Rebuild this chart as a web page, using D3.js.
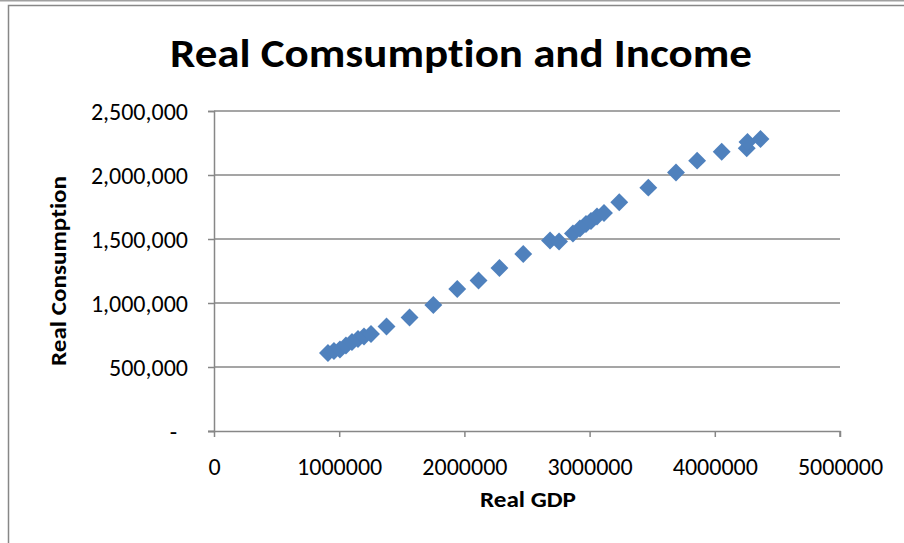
<!DOCTYPE html>
<html>
<head>
<meta charset="utf-8">
<script src="https://cdn.jsdelivr.net/npm/d3@7"></script>
<style>
  html, body { margin: 0; padding: 0; background: #ffffff; }
  svg { display: block; }
  text { font-family: Carlito, Calibri, Lato, "Open Sans", sans-serif; fill: #000; font-variant-ligatures: none; }
</style>
</head>
<body>
<svg id="chart" width="904" height="543"></svg>
<script>
// Real GDP (x) against real consumption (y)
const realGDP = [
  910000, 958000, 1006000, 1054000, 1102000, 1150000, 1198000, 1254000,
  1378000, 1562000, 1752000, 1943000, 2113000, 2280000, 2470000, 2684000,
  2756000, 2867000, 2923000, 2971000, 3011000, 3059000, 3115000, 3237000,
  3469000, 3690000, 3859000, 4055000, 4255000, 4261000, 4365000
];
const realConsumption = [
  609000, 625000, 637000, 668000, 695000, 719000, 738000, 758000,
  816000, 887000, 984000, 1109000, 1176000, 1273000, 1383000, 1488000,
  1480000, 1543000, 1582000, 1617000, 1641000, 1676000, 1703000, 1787000,
  1901000, 2020000, 2112000, 2182000, 2209000, 2258000, 2281000
];
const xTicks = [0, 1000000, 2000000, 3000000, 4000000, 5000000];
const yTicks = [0, 500000, 1000000, 1500000, 2000000, 2500000];

const chartTitle = "Real Comsumption and Income";
const xTitle = "Real GDP";
const yTitle = "Real Consumption";

const svg = d3.select("#chart");
const gray = "#878787";

// outer chart frame
svg.append("line").attr("x1", 0).attr("x2", 904).attr("y1", 0.75).attr("y2", 0.75)
  .attr("stroke", "#a0a0a0").attr("stroke-width", 1.5);
svg.append("path").attr("d", "M8.5,543 V5.5 H904")
  .attr("fill", "none").attr("stroke", gray).attr("stroke-width", 1.5);

const plot = { left: 214, right: 840, top: 111, bottom: 431 };

const x = d3.scaleLinear().domain([0, 5000000]).range([plot.left, plot.right]);
const y = d3.scaleLinear().domain([0, 2500000]).range([plot.bottom, plot.top]);

// horizontal gridlines
svg.append("g").selectAll("line")
  .data(yTicks.filter(d => d > 0))
  .join("line")
  .attr("x1", plot.left).attr("x2", plot.right)
  .attr("y1", d => y(d)).attr("y2", d => y(d))
  .attr("stroke", gray).attr("stroke-width", 1.5);

const fmtY = d => d === 0 ? "-" : d3.format(",")(d);

// y axis
const yAxis = svg.append("g")
  .attr("transform", `translate(${plot.left},0)`)
  .call(d3.axisLeft(y).tickValues(yTicks).tickFormat(fmtY).tickSize(6).tickPadding(20));
yAxis.select(".domain").attr("stroke", gray).attr("stroke-width", 1.5);
yAxis.selectAll(".tick line").attr("stroke", gray).attr("stroke-width", 1.5);
yAxis.selectAll(".tick text")
  .style("font-size", "24px").attr("fill", "#000")
  .attr("x", d => d === 0 ? -37 : -26)
  .attr("dy", "0.35em");

// x axis
const xAxis = svg.append("g")
  .attr("transform", `translate(0,${plot.bottom})`)
  .call(d3.axisBottom(x).tickValues(xTicks).tickFormat(d3.format("d")).tickSize(6).tickPadding(21));
xAxis.select(".domain").attr("stroke", gray).attr("stroke-width", 1.5)
  .attr("d", `M${plot.left - 6},0.5H${plot.right}V6`);
xAxis.selectAll(".tick line").attr("stroke", gray).attr("stroke-width", 1.5);
xAxis.selectAll(".tick text").style("font-size", "24px").attr("fill", "#000");

// data markers (diamonds)
const diamond = d3.symbol().type(d3.symbolSquare).size(160);
svg.append("g").selectAll("path")
  .data(realGDP.map((g, i) => [g, realConsumption[i]]))
  .join("path")
  .attr("d", diamond)
  .attr("transform", d => `translate(${x(d[0])},${y(d[1])}) rotate(45)`)
  .attr("fill", "#4F81BD");

// titles
svg.append("text")
  .attr("x", 461).attr("y", 67)
  .attr("text-anchor", "middle")
  .attr("textLength", 582).attr("lengthAdjust", "spacingAndGlyphs")
  .style("font-size", "40px").style("font-weight", "bold")
  .text(chartTitle);

svg.append("text")
  .attr("x", 528).attr("y", 507)
  .attr("text-anchor", "middle")
  .attr("textLength", 96).attr("lengthAdjust", "spacingAndGlyphs")
  .style("font-size", "22px").style("font-weight", "bold")
  .text(xTitle);

svg.append("text")
  .attr("transform", "translate(66,271) rotate(-90)")
  .attr("text-anchor", "middle")
  .attr("textLength", 190).attr("lengthAdjust", "spacingAndGlyphs")
  .style("font-size", "22px").style("font-weight", "bold")
  .text(yTitle);
</script>
</body>
</html>
